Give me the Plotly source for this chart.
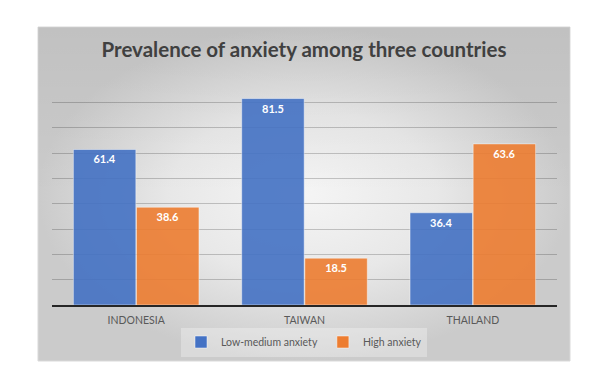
import plotly.graph_objects as go

countries = ["INDONESIA", "TAIWAN", "THAILAND"]
low_medium = [61.4, 81.5, 36.4]
high = [38.6, 18.5, 63.6]
series_names = ["Low-medium anxiety", "High anxiety"]
title_text = "Prevalence of anxiety among three countries"

W, H = 600, 382
OFF = 8  # page body margin
FONT = "Lato"

def px(v):
    return v - OFF

fig = go.Figure()

# chart-area background (radial gradient) on a full-page helper axis
bx0, bx1, by0, by1 = px(38), px(570), px(27), px(361)
fig.add_trace(go.Scatter(
    x=[bx0, bx1, bx1, bx0, bx0], y=[by0, by0, by1, by1, by0],
    xaxis="x", yaxis="y", mode="lines", fill="toself",
    line=dict(color="#d9d9d9", width=1),
    fillgradient=dict(type="radial",
                      colorscale=[[0, "#f5f5f5"], [0.5, "#e8e8e8"], [1, "#cbcbcb"]]),
    hoverinfo="skip", showlegend=False))
fig.add_trace(go.Scatter(
    x=[bx0, bx1, bx1, bx0, bx0], y=[by0, by0, by1, by1, by0],
    xaxis="x", yaxis="y", mode="lines", fill="toself",
    line=dict(color="rgba(0,0,0,0)", width=0),
    fillgradient=dict(type="vertical",
                      colorscale=[[0, "rgba(0,0,0,0)"], [0.5, "rgba(0,0,0,0)"], [1, "rgba(0,0,0,0.05)"]]),
    hoverinfo="skip", showlegend=False))

colors = ["#4472C4", "#ED7D31"]
for name, vals, col in zip(series_names, [low_medium, high], colors):
    fig.add_trace(go.Bar(
        x=countries, y=vals, name=name, xaxis="x2", yaxis="y2",
        marker=dict(color=col, opacity=0.9, line=dict(color="rgba(255,255,255,0.6)", width=0.8)),
        text=[f"{v:.1f}" for v in vals], textposition="inside",
        insidetextanchor="end",
        textfont=dict(family=FONT, size=11, color="white", weight="bold"),
        texttemplate="%{text}",
    ))

fig.update_layout(
    width=W, height=H,
    margin=dict(l=0, r=0, t=0, b=0),
    paper_bgcolor="white", plot_bgcolor="rgba(0,0,0,0)",
    font=dict(family=FONT, color="#595959"),
    title=dict(text=title_text, x=(304 - OFF) / W, xanchor="center", y=1 - px(50) / H, yanchor="middle",
               font=dict(family=FONT, size=20.5, color="#404040", weight="bold")),
    xaxis=dict(domain=[0, 1], range=[0, W], visible=False, fixedrange=True),
    yaxis=dict(domain=[0, 1], range=[H, 0], visible=False, fixedrange=True),
    xaxis2=dict(domain=[px(52) / W, px(557) / W], anchor="y2", showgrid=False,
                showline=True, linecolor="#262626", linewidth=1.5,
                tickfont=dict(family=FONT, size=10.5, color="#595959"),
                ticks="", ticklabelstandoff=5),
    yaxis2=dict(domain=[1 - px(305) / H, 1 - px(77) / H], anchor="x2", range=[0, 90],
                dtick=10, showgrid=True, gridcolor="rgba(0,0,0,0.2)", gridwidth=1,
                showticklabels=False, zeroline=False, showline=False),
    bargap=0.25, bargroupgap=0.01,
    legend=dict(orientation="h", x=(304 - OFF) / W, xanchor="center", y=1 - px(342) / H, yanchor="middle",
                bgcolor="rgba(255,255,255,0.3)", font=dict(family=FONT, size=10.5, color="#595959"),
                itemwidth=30, entrywidth=0, tracegroupgap=0),
)

fig.write_html("out.html")
